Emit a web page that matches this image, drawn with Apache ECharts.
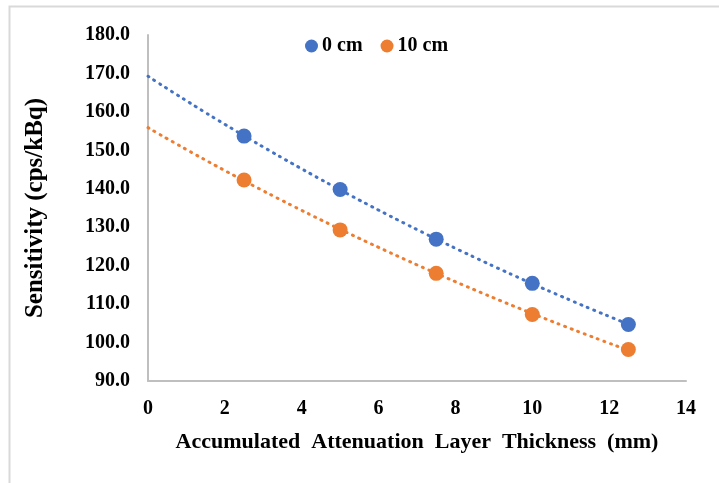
<!DOCTYPE html>
<html>
<head>
<meta charset="utf-8">
<script src="https://cdn.jsdelivr.net/npm/echarts@6/dist/echarts.min.js"></script>
<style>
  html, body { margin: 0; padding: 0; background: #fff; }
  #chart { width: 719px; height: 483px; }
</style>
</head>
<body>
<div id="chart"></div>
<script>
// thickness (mm)
const thickness = [2.5, 5, 7.5, 10, 12.5]
// sensitivity (cps/kBq)
const sens0cm = [153.7, 139.8, 126.9, 115.4, 104.7]
const sens10cm = [142.3, 129.3, 118.0, 107.3, 98.2]
const yTicks = [90, 100, 110, 120, 130, 140, 150, 160, 170, 180]
const xTicks = [0, 2, 4, 6, 8, 10, 12, 14]

// exponential trendline (least squares on ln y), like Excel does it
function expTrend(xs, ys) {
  const n = xs.length
  let sx = 0, sy = 0, sxx = 0, sxy = 0
  xs.forEach((x, i) => {
    const ly = Math.log(ys[i])
    sx += x; sy += ly; sxx += x * x; sxy += x * ly
  })
  const b = (n * sxy - sx * sy) / (n * sxx - sx * sx)
  const a = Math.exp((sy - b * sx) / n)
  const pts = []
  for (let x = 0; x <= 12.5 + 1e-9; x += 0.25) {
    pts.push([x, a * Math.exp(b * x)])
  }
  return pts
}

const chart = echarts.init(document.getElementById('chart'))
const font = 'Liberation Serif, Times New Roman, serif'
const axisGray = '#BFBFBF'

chart.setOption({
  backgroundColor: '#fff',
  animation: false,
  graphic: [
    {
      type: 'rect',
      shape: { x: 9.5, y: 6.5, width: 800, height: 600 },
      style: { fill: 'none', stroke: '#D9D9D9', lineWidth: 2 }
    }
  ],
  legend: {
    top: 31,
    left: 300,
    itemGap: 18,
    itemWidth: 13,
    itemHeight: 13,
    data: [
      { name: '0 cm', icon: 'circle' },
      { name: '10 cm', icon: 'circle' }
    ],
    textStyle: { fontFamily: font, fontWeight: 'bold', fontSize: 20, color: '#000', padding: [0, 0, 0, -1] }
  },
  grid: {
    left: 148,
    right: 33,
    top: 35,
    bottom: 102
  },
  xAxis: {
    type: 'value',
    min: 0,
    max: 14,
    interval: 2,
    name: 'Accumulated  Attenuation  Layer  Thickness  (mm)',
    nameLocation: 'middle',
    nameGap: 50,
    nameTextStyle: { fontFamily: font, fontWeight: 'bold', fontSize: 22, color: '#000' },
    axisLine: { lineStyle: { color: axisGray, width: 2 } },
    axisTick: { show: false },
    splitLine: { show: false },
    axisLabel: {
      margin: 18,
      fontFamily: font, fontWeight: 'bold', fontSize: 20, color: '#000',
      formatter: v => xTicks.includes(v) ? String(v) : ''
    }
  },
  yAxis: {
    type: 'value',
    min: yTicks[0],
    max: yTicks[yTicks.length - 1],
    interval: 10,
    name: 'Sensitivity (cps/kBq)',
    nameLocation: 'middle',
    nameGap: 100,
    nameRotate: 90,
    nameTextStyle: { fontFamily: font, fontWeight: 'bold', fontSize: 25, color: '#000' },
    axisLine: { show: true, lineStyle: { color: axisGray, width: 2 } },
    axisTick: { show: false },
    splitLine: { show: false },
    axisLabel: {
      margin: 18,
      fontFamily: font, fontWeight: 'bold', fontSize: 20, color: '#000',
      formatter: v => v.toFixed(1)
    }
  },
  series: [
    {
      name: 'trend 0 cm',
      type: 'line',
      data: expTrend(thickness, sens0cm),
      showSymbol: false,
      smooth: true,
      lineStyle: { color: '#4472C4', width: 3, type: [1, 6], cap: 'round' },
      silent: true
    },
    {
      name: 'trend 10 cm',
      type: 'line',
      data: expTrend(thickness, sens10cm),
      showSymbol: false,
      smooth: true,
      lineStyle: { color: '#ED7D31', width: 3, type: [1, 6], cap: 'round' },
      silent: true
    },
    {
      name: '0 cm',
      type: 'scatter',
      data: thickness.map((x, i) => [x, sens0cm[i]]),
      symbolSize: 15,
      itemStyle: { color: '#4472C4', opacity: 1 },
      z: 5
    },
    {
      name: '10 cm',
      type: 'scatter',
      data: thickness.map((x, i) => [x, sens10cm[i]]),
      symbolSize: 15,
      itemStyle: { color: '#ED7D31', opacity: 1 },
      z: 5
    }
  ]
})
</script>
</body>
</html>
